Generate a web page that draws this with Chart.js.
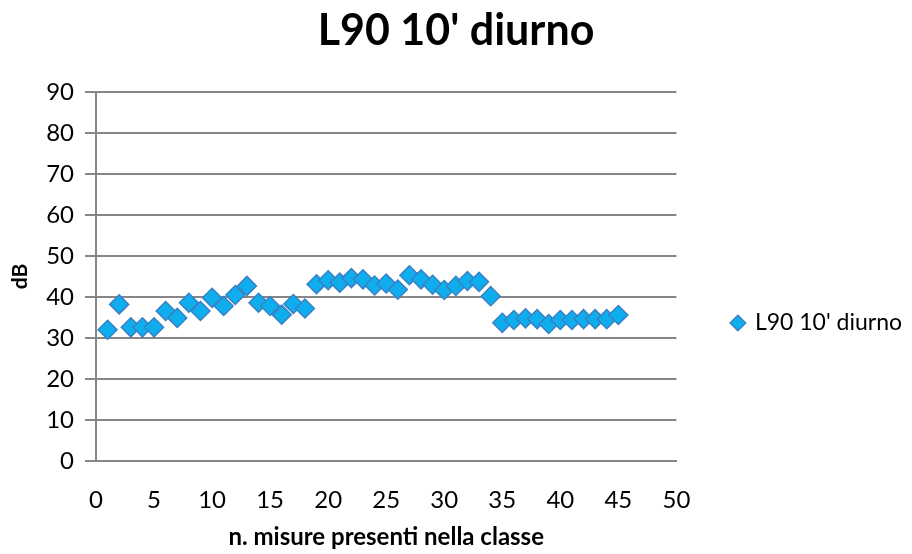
<!DOCTYPE html>
<html>
<head>
<meta charset="utf-8">
<script src="https://cdn.jsdelivr.net/npm/chart.js@4/dist/chart.umd.min.js"></script>
<style>
  html, body { margin: 0; padding: 0; background: #ffffff; }
  #wrap { width: 912px; height: 554px; }
</style>
</head>
<body>
<div id="wrap"><canvas id="chart"></canvas></div>
<script>
// Data
const misure = [1, 2, 3, 4, 5, 6, 7, 8, 9, 10, 11, 12, 13, 14, 15, 16, 17, 18, 19, 20,
                21, 22, 23, 24, 25, 26, 27, 28, 29, 30, 31, 32, 33, 34, 35, 36, 37, 38, 39, 40,
                41, 42, 43, 44, 45];
const valoriL90 = [32.0, 38.2, 32.6, 32.6, 32.6, 36.6, 34.9, 38.6, 36.6, 39.8,
                   37.8, 40.5, 42.7, 38.6, 37.8, 35.7, 38.3, 37.2, 43.1, 44.1,
                   43.5, 44.6, 44.3, 42.8, 43.3, 41.8, 45.3, 44.3, 43.0, 41.7,
                   42.7, 43.9, 43.7, 40.2, 33.7, 34.4, 34.8, 34.6, 33.4, 34.4,
                   34.4, 34.6, 34.6, 34.6, 35.6];
const xTicks = [0, 5, 10, 15, 20, 25, 30, 35, 40, 45, 50];
const yTicks = [0, 10, 20, 30, 40, 50, 60, 70, 80, 90];

const serieLabel = "L90 10' diurno";
const fontFamily = 'Lato, "Open Sans", sans-serif';

const points = misure.map((m, i) => ({ x: m, y: valoriL90[i] }));

// Moves the legend down a bit so it sits where Excel put it
const legendShift = {
    id: 'legendShift',
    afterLayout(chart) {
        if (chart.legend) {
            chart.legend.top += 46;
            chart.legend.bottom += 46;
        }
    }
};

new Chart(document.getElementById('chart'), {
    type: 'scatter',
    data: {
        datasets: [{
            label: serieLabel,
            data: points,
            pointStyle: 'rectRot',
            pointRadius: 9.5,
            pointHoverRadius: 9.5,
            backgroundColor: '#0EAEEE',
            borderColor: '#3A80C4',
            borderWidth: 1.5
        }]
    },
    options: {
        responsive: true,
        maintainAspectRatio: false,
        animation: false,
        layout: { padding: { top: 0, right: 0, bottom: 0, left: 0 } },
        plugins: {
            title: {
                display: true,
                text: serieLabel,
                color: '#000000',
                font: { family: fontFamily, size: 43, weight: 'bold' },
                padding: { top: 5, bottom: 35.4 }
            },
            legend: {
                position: 'right',
                maxWidth: 239,
                labels: {
                    usePointStyle: true,
                    pointStyle: 'rectRot',
                    boxWidth: 11,
                    boxHeight: 11,
                    color: '#000000',
                    padding: 56,
                    font: { family: fontFamily, size: 23 }
                }
            },
            tooltip: { enabled: false }
        },
        scales: {
            x: {
                type: 'linear',
                min: xTicks[0],
                max: xTicks[xTicks.length - 1],
                afterFit(scale) { scale.height = 93; },
                afterBuildTicks(scale) { scale.ticks = xTicks.map(v => ({ value: v })); },
                grid: { display: false },
                border: { display: true, color: '#868686', width: 2 },
                ticks: {
                    color: '#000000',
                    padding: 17,
                    maxRotation: 0,
                    font: { family: fontFamily, size: 24 }
                },
                title: {
                    display: true,
                    text: 'n. misure presenti nella classe',
                    color: '#000000',
                    font: { family: fontFamily, size: 24, weight: 'bold' },
                    padding: { top: 4, bottom: 2 }
                }
            },
            y: {
                type: 'linear',
                min: yTicks[0],
                max: yTicks[yTicks.length - 1],
                afterFit(scale) { scale.width = 96; },
                afterBuildTicks(scale) { scale.ticks = yTicks.map(v => ({ value: v })); },
                grid: {
                    color: '#868686',
                    lineWidth: 2,
                    drawTicks: true,
                    tickLength: 11,
                    tickColor: '#868686'
                },
                border: { display: true, color: '#868686', width: 2 },
                ticks: {
                    color: '#000000',
                    padding: 11,
                    font: { family: fontFamily, size: 24 }
                },
                title: {
                    display: true,
                    text: 'dB',
                    color: '#000000',
                    font: { family: fontFamily, size: 21, weight: 'bold' },
                    padding: { top: 8, bottom: 0 }
                }
            }
        }
    },
    plugins: [legendShift]
});
</script>
</body>
</html>
